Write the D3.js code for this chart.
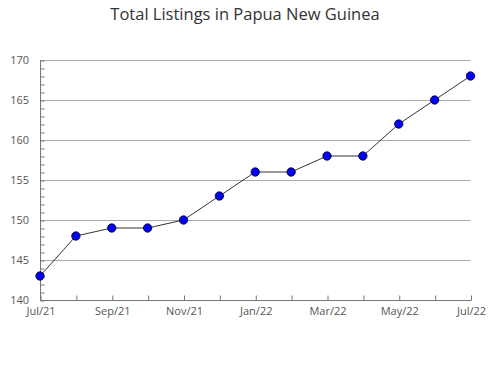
<!DOCTYPE html>
<html>
<head>
<meta charset="utf-8">
<script src="https://cdn.jsdelivr.net/npm/d3@7"></script>
<style>
body{margin:0;background:#fff;}
text{font-family:"Open Sans",sans-serif;}
</style>
</head>
<body>
<div class="chart"></div>
<script>
const months=['Jul/21','Aug/21','Sep/21','Oct/21','Nov/21','Dec/21','Jan/22','Feb/22','Mar/22','Apr/22','May/22','Jun/22','Jul/22'];
const listings=[143,148,149,149,150,153,156,156,158,158,162,165,168];
const yTicks=[140,145,150,155,160,165,170];

const width=490;
const height=380;
const margin={top:60,right:19.5,bottom:80,left:40};

const svg=d3.select('.chart')
	.append('svg')
	.attr('width',width)
	.attr('height',height)

svg.append('text')
	.attr('x',width/2)
	.attr('y',20)
	.attr('text-anchor','middle')
	.attr('font-size',16.5)
	.attr('fill','#333')
	.text('Total Listings in Papua New Guinea')

const x=d3.scalePoint()
	.domain(months)
	.range([margin.left,width-margin.right])

const y=d3.scaleLinear()
	.domain([140,170])
	.range([height-margin.bottom,margin.top])

// grid lines
svg.selectAll('.grid')
	.data(yTicks.slice(1))
	.enter()
	.append('line')
	.attr('x1',margin.left)
	.attr('x2',width-margin.right)
	.attr('y1',d=>y(d)+0.5)
	.attr('y2',d=>y(d)+0.5)
	.attr('stroke','#aaa')

// y axis with minor ticks
const yAxis=svg.append('g')
	.attr('transform','translate('+(margin.left+0.5)+',0.5)')
	.call(d3.axisLeft(y).tickValues(d3.range(140,171,1)).tickSize(4).tickFormat(''))
yAxis.select('.domain').attr('stroke','#777').attr('d','M0,'+y(170)+'V'+y(140))
yAxis.selectAll('.tick line').attr('stroke','#777').attr('x2',4).attr('x1',0)

svg.selectAll('.ylab')
	.data(yTicks)
	.enter()
	.append('text')
	.attr('x',margin.left-11)
	.attr('y',d=>y(d)+4)
	.attr('text-anchor','end')
	.attr('font-size',11)
	.attr('fill','#555')
	.text(d=>d)

// x axis
const xAxis=svg.append('g')
	.attr('transform','translate(0.5,'+(height-margin.bottom+0.5)+')')
	.call(d3.axisBottom(x).tickSize(4).tickFormat((d,i)=>i%2==0?d:''))
xAxis.select('.domain').attr('stroke','#777').attr('d','M'+margin.left+',0H'+(width-margin.right))
xAxis.selectAll('.tick line').attr('stroke','#777').attr('y2',-5)
xAxis.selectAll('.tick text')
	.attr('y',7)
	.attr('font-size',11)
	.attr('fill','#555')
	.style('font-family','"Open Sans",sans-serif')

// line
svg.append('path')
	.datum(listings)
	.attr('fill','none')
	.attr('stroke','#000')
	.attr('stroke-width',0.8)
	.attr('d',d3.line().x((d,i)=>x(months[i])).y(d=>y(d)))

svg.selectAll('circle')
	.data(listings)
	.enter()
	.append('circle')
	.attr('cx',(d,i)=>x(months[i]))
	.attr('cy',d=>y(d))
	.attr('r',4.2)
	.attr('fill','#0000ff')
	.attr('stroke','#000')
	.attr('stroke-width',0.8)
</script>
</body>
</html>
